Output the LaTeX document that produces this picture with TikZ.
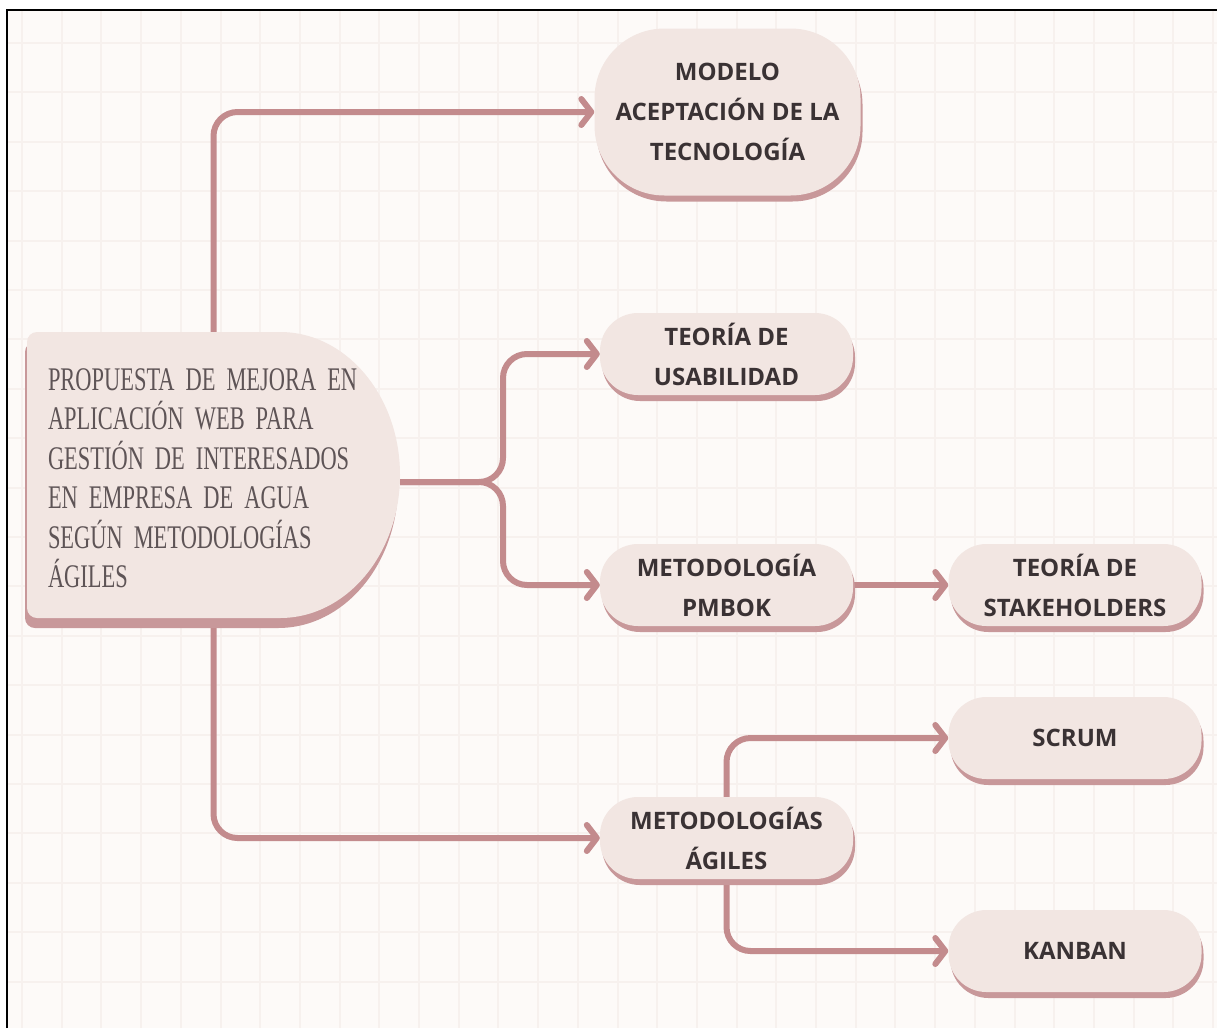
\documentclass[tikz,border=0pt]{standalone}
\usepackage{fontspec}
\setmainfont{Open Sans}
\newfontfamily\decofont[FakeStretch=0.68,WordSpace=0.55]{Liberation Serif}
\usetikzlibrary{arrows.meta,calc,shadows}

\definecolor{paper}{HTML}{FDFAF8}
\definecolor{gridc}{HTML}{F7F1EE}
\definecolor{rose}{HTML}{C38B8D}
\definecolor{boxfill}{HTML}{F2E6E2}
\definecolor{boxshade}{HTML}{C8989A}
\definecolor{ink}{HTML}{3A3234}
\definecolor{softink}{HTML}{5E5456}

\pgfdeclarelayer{back}
\pgfdeclarelayer{lines}
\pgfsetlayers{back,lines,main}

% narrow display serif for the central block
\newcommand\decoset{\decofont\fontsize{33}{39.5}\selectfont}

\tikzset{
  link/.style={draw=rose, line width=6pt, rounded corners=24pt,
    -{Straight Barb[length=10pt,width=26pt,round]}},
  pill/.style={fill=boxfill, rounded corners=38pt, inner sep=0pt,
    minimum width=253pt, minimum height=82pt, align=center, text=ink,
    font=\fontsize{24}{40}\selectfont\bfseries,
    drop shadow={shadow xshift=2pt, shadow yshift=-6pt, opacity=1, fill=boxshade}},
  bigpill/.style={pill, rounded corners=70pt, minimum width=266pt, minimum height=167pt},
  gridline/.style={draw=gridc, line width=2pt}
}

% outline of the central block: square left corners, bulging right side
\newcommand\centralblock{%
  (280,332) arc[start angle=-90,end angle=90,x radius=120,y radius=143]
  -- (37,618) arc[start angle=90,end angle=180,radius=10]
  -- (27,342) arc[start angle=180,end angle=270,radius=10] -- cycle}

\begin{document}
\begin{tikzpicture}[x=1pt,y=-1pt]
  \useasboundingbox (0,0) rectangle (1217,1028);
  % page, paper, faint grid and frame
  \begin{pgfonlayer}{back}
    \fill[white] (0,0) rectangle (1217,1028);
    \fill[paper] (7,10) rectangle (1217,1028);
    \foreach \i in {0,...,30}
      \draw[gridline] ({22+39.7*\i},10) -- ({22+39.7*\i},1028);
    \foreach \j in {0,...,20}
      \draw[gridline] (7,{43+49.4*\j}) -- (1217,{43+49.4*\j});
    \draw[black, line width=2pt] (7,1028) -- (7,10) -- (1217,10);
  \end{pgfonlayer}

  % central block with its shadow
  \fill[boxshade] [shift={(-2,10)}] \centralblock;
  \fill[boxfill] \centralblock;
  \node[inner xsep=21pt, inner ysep=0pt, minimum width=373pt, minimum height=286pt,
        text width=331pt, align=left, text=softink, font=\decoset] (main) at (213.5,478)
    {PROPUESTA DE MEJORA EN\\APLICACIÓN WEB PARA\\GESTIÓN DE INTERESADOS\\EN EMPRESA DE AGUA\\SEGÚN METODOLOGÍAS\\ÁGILES};

  % topic boxes
  \node[bigpill] (modelo) at (727.5,112) {MODELO\\ACEPTACIÓN DE LA\\TECNOLOGÍA};
  \node[pill] (usab)   at (726.5,354) {TEORÍA DE\\USABILIDAD};
  \node[pill] (pmbok)  at (726.5,585) {METODOLOGÍA\\PMBOK};
  \node[pill] (stake)  at (1075,585)  {TEORÍA DE\\STAKEHOLDERS};
  \node[pill] (agiles) at (726.5,838) {METODOLOGÍAS\\ÁGILES};
  \node[pill] (scrum)  at (1075,738)  {SCRUM};
  \node[pill] (kanban) at (1075,951)  {KANBAN};

  % connectors
  \coordinate (fork) at (503,482);
  \begin{pgfonlayer}{lines}
    \draw[link] (main.north) |- (modelo.west);
    \draw[link] (main.south) |- (agiles.west);
    \draw[link] (main.east |- fork) -- (fork) |- (usab.west);
    \draw[link] (main.east |- fork) -- (fork) |- (pmbok.west);
    \draw[link] (pmbok.east) -- (stake.west);
    \draw[link] (agiles.north) |- (scrum.west);
    \draw[link] (agiles.south) |- (kanban.west);
  \end{pgfonlayer}
\end{tikzpicture}
\end{document}
